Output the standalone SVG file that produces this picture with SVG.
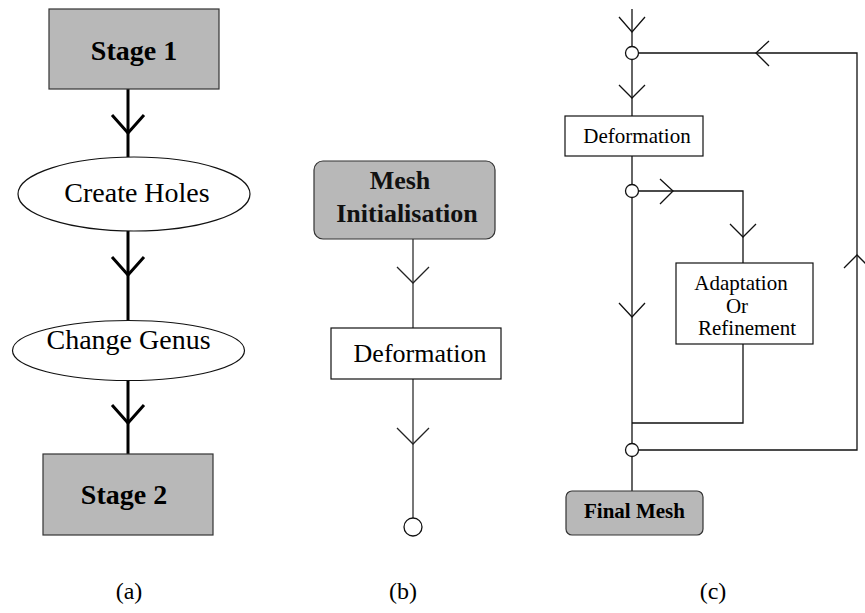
<svg xmlns="http://www.w3.org/2000/svg" width="865" height="613" viewBox="0 0 865 613">
<style>
.grey{fill:#b8b8b8;stroke:#333;stroke-width:1.2}
.white{fill:#ffffff;stroke:#111;stroke-width:1.2}
.la{stroke:#000;stroke-width:3;fill:none}
.lb{stroke:#777;stroke-width:2;fill:none}
.chb{stroke:#222;stroke-width:1.3;fill:none}
.lc{stroke:#111;stroke-width:1.3;fill:none}
.circ{fill:#fff;stroke:#111;stroke-width:1.3}
</style>
<rect x="0" y="0" width="865" height="613" fill="#ffffff"/>

<g id="connectors">
  <path class="la" d="M128,89 V157"/>
  <path class="la" d="M112,115 L128,133 L144,115"/>
  <path class="la" d="M128,231 V320"/>
  <path class="la" d="M112,257 L128,275 L144,257"/>
  <path class="la" d="M128,380 V454"/>
  <path class="la" d="M112,405 L128,423 L144,405"/>
  <path class="lb" d="M413,239 V328"/>
  <path class="chb" d="M397,267 L413,283 L429,267"/>
  <path class="lb" d="M413,379 V518"/>
  <path class="chb" d="M397,428 L413,444 L429,428"/>
  <path class="lc" d="M632,9 V47"/>
  <path class="lc" d="M619,17 L632,32 L645,17"/>
  <path class="lc" d="M632,60 V116"/>
  <path class="lc" d="M619,85 L632,98 L645,85"/>
  <path class="lc" d="M638.5,53 H857 V450 H638.5"/>
  <path class="lc" d="M769,41 L756,53 L769,66"/>
  <path class="lc" d="M844,268 L857,255 L870,268"/>
  <path class="lc" d="M632,156 V185"/>
  <path class="lc" d="M638.5,191 H743 V263"/>
  <path class="lc" d="M660,179 L673,191 L660,204"/>
  <path class="lc" d="M730,224 L743,237 L756,224"/>
  <path class="lc" d="M632,197 V444"/>
  <path class="lc" d="M619,303 L632,317 L645,303"/>
  <path class="lc" d="M743,344 V423 H632"/>
  <path class="lc" d="M632,456.5 V491"/>
</g>

<g id="stage1">
  <rect class="grey" x="49" y="9" width="170" height="80"/>
  <text x="134" y="60" font-size="28" font-weight="bold" font-family="'Liberation Serif', serif" text-anchor="middle">Stage 1</text>
</g>
<g id="create-holes">
  <ellipse class="white" cx="134" cy="194" rx="116" ry="37"/>
  <text x="137" y="202" font-size="28" font-family="'Liberation Serif', serif" text-anchor="middle">Create Holes</text>
</g>
<g id="change-genus">
  <ellipse class="white" cx="128.5" cy="350.5" rx="116" ry="30"/>
  <text x="128.5" y="349" font-size="28" font-family="'Liberation Serif', serif" text-anchor="middle">Change Genus</text>
</g>
<g id="stage2">
  <rect class="grey" x="43" y="454" width="170" height="81"/>
  <text x="124" y="504" font-size="28" font-weight="bold" font-family="'Liberation Serif', serif" text-anchor="middle">Stage 2</text>
</g>
<text x="129" y="599" font-size="24" font-family="'Liberation Serif', serif" text-anchor="middle">(a)</text>

<g id="mesh-init">
  <rect class="grey" x="314" y="161" width="181" height="78" rx="9" ry="9"/>
  <text x="400" y="189" font-size="26" font-weight="bold" fill="#111" font-family="'Liberation Serif', serif" text-anchor="middle">Mesh</text>
  <text x="407" y="222" font-size="26" font-weight="bold" fill="#111" font-family="'Liberation Serif', serif" text-anchor="middle">Initialisation</text>
</g>
<g id="deformation-b">
  <rect class="white" x="331" y="328" width="170" height="51"/>
  <text x="420" y="362" font-size="26" font-family="'Liberation Serif', serif" text-anchor="middle">Deformation</text>
</g>
<g id="end-b">
  <circle class="circ" cx="413" cy="527" r="9"/>
</g>
<text x="403" y="599" font-size="24" font-family="'Liberation Serif', serif" text-anchor="middle">(b)</text>

<g id="junction1"><circle class="circ" cx="632" cy="53" r="6.5"/></g>
<g id="deformation-c">
  <rect class="white" x="565" y="116" width="138" height="40"/>
  <text x="637" y="143" font-size="21" font-family="'Liberation Serif', serif" text-anchor="middle">Deformation</text>
</g>
<g id="junction2"><circle class="circ" cx="632" cy="191" r="6.5"/></g>
<g id="adaptation">
  <rect class="white" x="676" y="263" width="137" height="81"/>
  <text x="741" y="290" font-size="21" font-family="'Liberation Serif', serif" text-anchor="middle">Adaptation</text>
  <text x="737" y="313" font-size="21" font-family="'Liberation Serif', serif" text-anchor="middle">Or</text>
  <text x="747" y="335" font-size="21" font-family="'Liberation Serif', serif" text-anchor="middle">Refinement</text>
</g>
<g id="junction3"><circle class="circ" cx="632" cy="450" r="6.5"/></g>
<g id="final-mesh">
  <rect class="grey" x="566" y="491" width="137" height="44" rx="6" ry="6"/>
  <text x="634.5" y="518" font-size="21" font-weight="bold" font-family="'Liberation Serif', serif" text-anchor="middle">Final Mesh</text>
</g>
<text x="713" y="599" font-size="24" font-family="'Liberation Serif', serif" text-anchor="middle">(c)</text>
</svg>
